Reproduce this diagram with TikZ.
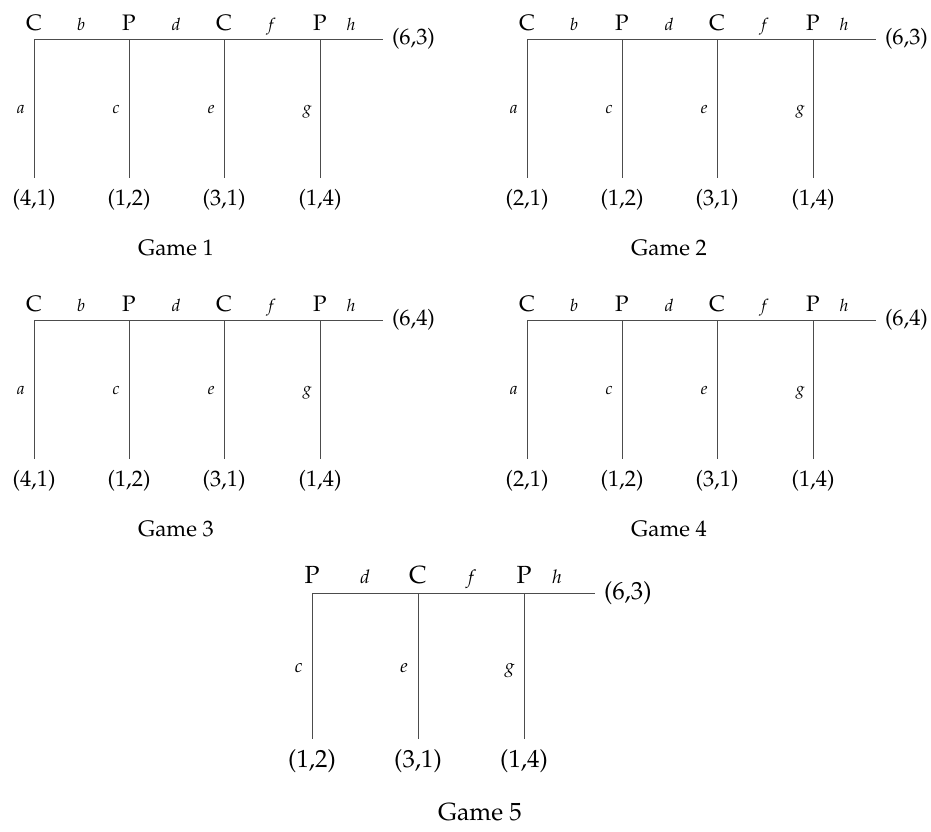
\documentclass[tikz,border=0pt]{standalone}
\usepackage[T1]{fontenc}
\usepackage{mathpazo}
\tikzset{
  edge/.style={line width=0.5pt, draw=black!70},
  pl/.style={font=\fontsize{11.2}{13}\selectfont, inner sep=0pt, anchor=base},
  act/.style={font=\fontsize{8.5}{10}\selectfont\itshape, inner sep=0pt, anchor=base},
  sideact/.style={act, anchor=base east},
  payoff/.style={font=\fontsize{11.2}{13}\selectfont, inner sep=0pt, outer sep=5.5pt, anchor=north},
  endpay/.style={font=\fontsize{11.2}{13}\selectfont, inner sep=0pt, outer sep=4.5pt, anchor=west},
  gtitle/.style={font=\fontsize{11.2}{13}\selectfont, inner sep=0pt},
  big/.style={font=\fontsize{12.4}{14}\selectfont},
  bigact/.style={font=\fontsize{9.4}{11}\selectfont\itshape},
}
\newcommand\gamefour[6]{%
  \begin{scope}[shift={(#2,#3)}]
    \coordinate (#1v1) at (34,39);
    \coordinate (#1v2) at (129,39);
    \coordinate (#1v3) at (224,39);
    \coordinate (#1v4) at (320,39);
    \node[endpay] (#1h) at (383,39) {#5};
    \node[payoff] (#1pa) at (34,178) {#4};
    \node[payoff] (#1pc) at (129,178) {(1,2)};
    \node[payoff] (#1pe) at (224,178) {(3,1)};
    \node[payoff] (#1pg) at (320,178) {(1,4)};
    \draw[edge] (#1v1) -- (#1h.west);
    \draw[edge] (#1v1) -- (#1pa.north);
    \draw[edge] (#1v2) -- (#1pc.north);
    \draw[edge] (#1v3) -- (#1pe.north);
    \draw[edge] (#1v4) -- (#1pg.north);
    \node[pl] (#1n1) at (34,30) {C};
    \node[pl] (#1n2) at (129,30) {P};
    \node[pl] (#1n3) at (224,30) {C};
    \node[pl] (#1n4) at (320,30) {P};
    \node[act] (#1b) at (81,30) {b};
    \node[act] (#1d) at (176,30) {d};
    \node[act] (#1f) at (271,30) {f};
    \node[act] (#1hl) at (351,30) {h};
    \node[sideact] (#1a) at (25,113) {a};
    \node[sideact] (#1c) at (120,113) {c};
    \node[sideact] (#1e) at (215,113) {e};
    \node[sideact] (#1g) at (312,113) {g};
    \node[gtitle] (#1t) at (176,248) {#6};
  \end{scope}}
\begin{document}
\begin{tikzpicture}[x=0.5pt,y=-0.5pt]
  \useasboundingbox (0,0) rectangle (931,831);
  \gamefour{A}{0}{0}{(4,1)}{(6,3)}{Game 1}
  \gamefour{B}{493}{0}{(2,1)}{(6,3)}{Game 2}
  \gamefour{C}{0}{281}{(4,1)}{(6,4)}{Game 3}
  \gamefour{D}{493}{281}{(2,1)}{(6,4)}{Game 4}
  % Game 5
  \coordinate (Ev2) at (312,593);
  \coordinate (Ev3) at (418,593);
  \coordinate (Ev4) at (524,593);
  \node[endpay,big] (Eh) at (595,593) {(6,3)};
  \node[payoff,big] (Epc) at (312,739) {(1,2)};
  \node[payoff,big] (Epe) at (418,739) {(3,1)};
  \node[payoff,big] (Epg) at (524,739) {(1,4)};
  \draw[edge] (Ev2) -- (Eh.west);
  \draw[edge] (Ev2) -- (Epc.north);
  \draw[edge] (Ev3) -- (Epe.north);
  \draw[edge] (Ev4) -- (Epg.north);
  \node[pl,big] (En2) at (312,583) {P};
  \node[pl,big] (En3) at (418,583) {C};
  \node[pl,big] (En4) at (524,583) {P};
  \node[act,bigact] (Ed) at (365,583) {d};
  \node[act,bigact] (Ef) at (471,583) {f};
  \node[act,bigact] (Ehl) at (557,583) {h};
  \node[sideact,bigact] (Ec) at (303,672) {c};
  \node[sideact,bigact] (Ee) at (408,672) {e};
  \node[sideact,bigact] (Eg) at (515,672) {g};
  \node[gtitle,big] (Et) at (480,812) {Game 5};
\end{tikzpicture}
\end{document}
